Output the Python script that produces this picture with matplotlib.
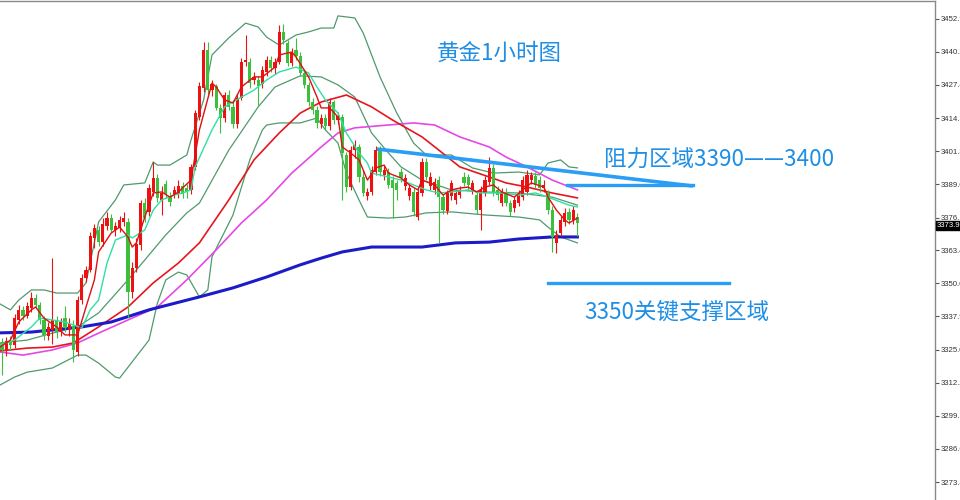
import matplotlib
matplotlib.use("Agg")
import matplotlib.pyplot as plt
import numpy as np

# ------------------------------------------------------------------
# Gold 1h candles, oldest -> newest
# ------------------------------------------------------------------
opens = [
    3327.6, 3324.9, 3328.4, 3326.8, 3336.5, 3340.4, 3338.0, 3341.1, 3345.0, 3342.3,
    3336.5, 3330.3, 3332.6, 3336.5, 3331.8, 3337.2, 3332.6, 3334.2, 3324.1, 3344.2,
    3352.7, 3355.8, 3368.2, 3371.3, 3366.6, 3372.8, 3375.9, 3371.3, 3372.0, 3374.4,
    3374.4, 3347.3, 3356.6, 3365.5, 3381.7, 3378.2, 3386.0, 3391.4, 3382.9, 3389.1,
    3384.4, 3385.2, 3385.2, 3388.3, 3387.5, 3386.8, 3395.7, 3415.0, 3426.2, 3440.9,
    3425.4, 3427.0, 3418.5, 3414.6, 3423.5, 3418.9, 3412.3, 3422.3, 3436.3, 3436.3,
    3429.3, 3429.3, 3427.8, 3432.4, 3437.0, 3434.0, 3436.3, 3447.9, 3443.6, 3435.9,
    3440.9, 3438.6, 3432.0, 3427.4, 3420.8, 3417.7, 3412.3, 3414.6, 3411.5, 3420.8,
    3413.8, 3415.0, 3400.3, 3387.9, 3402.2, 3403.4, 3391.8, 3384.4, 3386.0, 3393.7,
    3402.2, 3392.6, 3393.7, 3390.6, 3389.5, 3393.7, 3388.3, 3384.4, 3386.0, 3376.3,
    3385.6, 3397.6, 3388.3, 3386.8, 3390.6, 3384.0, 3378.6, 3384.4, 3382.9, 3384.8,
    3391.8, 3391.8, 3386.8, 3384.8, 3379.0, 3385.6, 3389.8, 3395.3, 3386.8, 3381.7,
    3386.0, 3381.7, 3379.8, 3381.7, 3384.0, 3386.0, 3390.6, 3392.2, 3390.6, 3387.5,
    3385.6, 3379.0, 3366.3, 3370.1, 3374.4, 3378.2, 3375.2, 3376.3,
]
closes = [
    3324.9, 3328.4, 3326.8, 3337.2, 3340.4, 3338.0, 3341.9, 3345.0, 3342.3, 3336.5,
    3330.7, 3333.8, 3336.5, 3331.8, 3335.7, 3333.4, 3334.9, 3324.9, 3344.2, 3352.7,
    3355.8, 3369.0, 3372.0, 3366.6, 3373.6, 3375.9, 3371.3, 3372.8, 3375.2, 3375.9,
    3347.3, 3356.6, 3365.9, 3381.7, 3375.9, 3387.5, 3391.4, 3383.7, 3385.6, 3385.2,
    3382.1, 3386.8, 3388.3, 3385.2, 3386.0, 3395.7, 3416.5, 3427.0, 3440.9, 3425.4,
    3427.8, 3418.5, 3414.6, 3423.5, 3418.9, 3412.3, 3422.3, 3436.3, 3437.0, 3428.1,
    3430.5, 3427.0, 3433.2, 3437.0, 3434.0, 3436.3, 3447.9, 3444.8, 3435.9, 3440.1,
    3438.6, 3432.0, 3427.4, 3420.8, 3417.7, 3412.7, 3414.6, 3411.5, 3420.8, 3413.8,
    3415.4, 3401.1, 3387.9, 3402.2, 3404.2, 3391.8, 3385.6, 3386.0, 3394.5, 3402.2,
    3393.7, 3394.5, 3388.7, 3387.5, 3386.8, 3391.4, 3391.4, 3387.5, 3378.2, 3386.0,
    3397.6, 3391.8, 3391.8, 3389.8, 3384.0, 3379.0, 3385.6, 3389.5, 3385.6, 3386.8,
    3389.5, 3388.7, 3389.5, 3379.0, 3386.8, 3390.6, 3395.3, 3386.0, 3384.8, 3386.0,
    3381.7, 3378.2, 3382.9, 3384.8, 3390.6, 3392.6, 3392.6, 3388.7, 3387.5, 3388.7,
    3379.0, 3368.6, 3369.4, 3375.2, 3377.9, 3375.2, 3379.0, 3373.9,
]
highs = [
    3329.5, 3329.9, 3330.3, 3338.8, 3342.3, 3341.9, 3343.4, 3347.3, 3346.5, 3343.4,
    3338.0, 3335.7, 3360.4, 3338.0, 3337.2, 3341.9, 3337.2, 3336.5, 3345.8, 3354.3,
    3357.4, 3370.5, 3373.6, 3372.8, 3375.9, 3378.2, 3377.5, 3374.4, 3376.7, 3378.2,
    3375.9, 3358.9, 3368.2, 3382.9, 3383.7, 3389.1, 3397.6, 3393.0, 3388.3, 3390.6,
    3386.0, 3388.3, 3390.6, 3389.8, 3389.1, 3396.8, 3417.7, 3428.5, 3444.0, 3444.0,
    3429.3, 3427.8, 3420.0, 3424.7, 3425.4, 3421.6, 3423.9, 3437.8, 3446.7, 3437.8,
    3432.4, 3430.9, 3434.7, 3438.6, 3438.6, 3437.8, 3450.6, 3451.0, 3444.8, 3441.7,
    3445.6, 3440.1, 3433.2, 3428.5, 3422.3, 3419.2, 3416.2, 3416.2, 3422.3, 3421.6,
    3416.9, 3416.2, 3401.4, 3403.8, 3406.1, 3404.6, 3394.5, 3387.5, 3396.0, 3403.8,
    3403.8, 3396.0, 3395.3, 3392.2, 3390.6, 3395.3, 3393.0, 3389.1, 3387.5, 3387.5,
    3399.1, 3399.1, 3393.7, 3391.4, 3392.2, 3385.2, 3386.8, 3390.6, 3386.8, 3388.3,
    3393.7, 3393.0, 3390.6, 3386.0, 3388.3, 3392.2, 3399.5, 3396.8, 3388.3, 3387.5,
    3387.5, 3382.9, 3384.4, 3386.8, 3392.2, 3394.5, 3393.7, 3393.7, 3392.2, 3390.6,
    3386.8, 3380.6, 3371.3, 3376.7, 3379.8, 3379.8, 3380.6, 3377.9,
]
lows = [
    3315.2, 3322.6, 3324.9, 3325.6, 3334.9, 3336.5, 3337.2, 3339.6, 3341.1, 3334.9,
    3328.7, 3328.7, 3327.2, 3329.5, 3330.3, 3331.8, 3330.3, 3320.2, 3322.6, 3342.7,
    3351.2, 3355.0, 3364.3, 3365.1, 3365.1, 3371.3, 3370.5, 3369.0, 3370.5, 3372.8,
    3337.2, 3345.0, 3355.0, 3363.6, 3374.4, 3376.7, 3384.4, 3382.1, 3377.1, 3383.7,
    3380.6, 3383.7, 3383.7, 3383.7, 3383.7, 3385.2, 3394.5, 3413.8, 3424.7, 3423.9,
    3423.1, 3417.7, 3408.8, 3413.1, 3417.7, 3410.7, 3410.7, 3421.6, 3434.7, 3426.2,
    3427.8, 3419.6, 3426.2, 3430.9, 3432.4, 3431.6, 3435.5, 3443.2, 3434.7, 3434.7,
    3437.0, 3430.9, 3426.2, 3419.2, 3416.2, 3410.7, 3410.7, 3410.0, 3410.0, 3412.3,
    3412.3, 3382.9, 3386.0, 3386.8, 3399.1, 3389.8, 3384.4, 3382.9, 3384.8, 3392.6,
    3392.2, 3390.6, 3387.5, 3375.9, 3382.9, 3389.8, 3386.8, 3382.9, 3376.7, 3375.2,
    3384.4, 3390.6, 3386.8, 3385.2, 3366.3, 3377.5, 3377.5, 3382.9, 3381.4, 3383.7,
    3388.3, 3386.8, 3385.2, 3377.5, 3371.3, 3384.4, 3388.7, 3384.4, 3382.9, 3380.6,
    3380.6, 3376.7, 3378.2, 3380.6, 3382.9, 3384.8, 3389.1, 3387.5, 3386.0, 3386.0,
    3377.5, 3362.8, 3362.4, 3369.0, 3372.8, 3373.6, 3373.6, 3369.0,
]

# ------------------------------------------------------------------
# Indicator lines, sampled at candle index positions
# ------------------------------------------------------------------
ma_fast_idx = [-0.5, 2, 4, 7, 8, 10, 13, 15, 18, 20, 22, 23, 26, 28, 30, 31, 32, 34, 36, 38,
               40, 42, 45, 47, 50, 51, 53, 55, 57, 60, 62, 65, 66, 69, 70, 73, 75, 76, 78, 80,
               81, 83, 85, 87, 89, 91, 92, 95, 97, 99, 100, 103, 105, 107, 109, 111, 113, 115,
               117, 119, 122, 124, 126, 129, 130, 132, 134, 135, 137]
ma_fast_val = [3326.0, 3328.7, 3335.7, 3340.4, 3341.5, 3337.2, 3333.8, 3330.7, 3330.7, 3341.5,
               3352.0, 3362.8, 3370.1, 3372.4, 3368.6, 3364.7, 3366.3, 3376.3, 3385.6, 3386.0,
               3384.0, 3386.0, 3390.6, 3410.0, 3428.1, 3426.6, 3421.6, 3420.4, 3426.6, 3430.5,
               3430.5, 3434.3, 3439.0, 3440.1, 3438.2, 3430.5, 3422.7, 3418.5, 3418.5, 3415.0,
               3403.4, 3401.1, 3398.4, 3390.6, 3395.3, 3396.4, 3393.3, 3391.4, 3388.7, 3386.8,
               3390.6, 3388.7, 3384.8, 3386.8, 3387.5, 3387.9, 3386.0, 3387.9, 3388.7, 3386.0,
               3384.0, 3386.8, 3389.5, 3387.9, 3384.0, 3379.0, 3375.2, 3374.0, 3375.9]

ma10_idx = [-0.5, 3, 7, 9, 12, 15, 19, 21, 23, 25, 27, 30, 31, 34, 36, 38, 41, 43, 45, 46,
            50, 53, 57, 60, 63, 66, 70, 73, 75, 77, 80, 82, 85, 87, 88, 92, 95, 98, 101, 104,
            107, 111, 114, 119, 123, 127, 130, 133, 135, 137]
ma10_val = [3326.8, 3328.7, 3333.8, 3337.2, 3336.5, 3335.7, 3333.4, 3340.4, 3344.2, 3358.5,
            3367.4, 3369.4, 3368.2, 3371.3, 3379.0, 3382.9, 3384.8, 3385.6, 3386.8, 3395.7,
            3410.0, 3418.9, 3422.7, 3425.4, 3429.3, 3432.4, 3434.3, 3432.0, 3426.6, 3421.6,
            3416.5, 3408.8, 3401.1, 3397.2, 3393.3, 3391.8, 3390.6, 3388.7, 3386.8, 3385.6,
            3386.0, 3386.8, 3385.6, 3385.6, 3384.8, 3385.6, 3384.0, 3382.1, 3380.9, 3380.2]

bb_mid_idx = [-0.5, 6, 12, 18, 23, 30, 34, 39, 44, 47, 54, 61, 65, 71, 76, 80, 84, 88, 92, 95,
              100, 107, 115, 123, 131, 137]
bb_mid_val = [3327.6, 3328.7, 3331.4, 3333.8, 3339.2, 3352.0, 3359.7, 3369.4, 3377.9, 3381.7,
              3402.2, 3418.9, 3426.6, 3430.9, 3430.5, 3427.4, 3422.7, 3408.8, 3401.1, 3395.7,
              3390.6, 3386.8, 3386.0, 3385.6, 3384.0, 3380.9]

bb_up_idx = [-0.5, 2, 4, 7, 10, 13, 18, 20, 23, 27, 29, 34, 36, 37, 40, 44, 45, 48, 50, 54,
             58, 61, 63, 66, 70, 73, 76, 79, 80, 84, 86, 90, 94, 98, 101, 107, 112, 117, 123,
             128, 130, 133, 135, 137]
bb_up_val = [3342.7, 3340.4, 3344.2, 3348.1, 3348.1, 3346.9, 3346.9, 3350.8, 3374.4, 3382.9,
             3388.7, 3389.5, 3397.6, 3396.4, 3396.4, 3400.3, 3406.1, 3421.6, 3439.0, 3445.6,
             3451.3, 3449.8, 3445.9, 3442.8, 3446.7, 3447.9, 3449.4, 3449.4, 3454.1, 3453.3,
             3447.5, 3430.5, 3416.5, 3404.9, 3400.3, 3400.3, 3395.3, 3393.3, 3393.7, 3392.6,
             3397.2, 3398.4, 3395.7, 3395.3]

bb_low_idx = [-0.5, 3, 6, 12, 18, 20, 23, 27, 28, 35, 37, 39, 42, 44, 47, 49, 50, 55, 59, 62,
              63, 66, 71, 75, 77, 80, 82, 85, 87, 92, 96, 101, 107, 115, 123, 128, 130, 133, 137]
bb_low_val = [3311.3, 3314.4, 3316.3, 3317.9, 3322.9, 3322.9, 3319.8, 3314.4, 3314.0, 3328.7,
              3343.0, 3352.0, 3355.0, 3353.9, 3345.4, 3348.1, 3360.9, 3377.1, 3398.4, 3410.0,
              3411.9, 3412.7, 3412.7, 3414.6, 3410.0, 3404.9, 3393.3, 3382.9, 3376.3, 3375.9,
              3376.3, 3377.9, 3378.3, 3377.1, 3376.3, 3375.2, 3372.4, 3368.6, 3366.3]

ma_slow_idx = [-0.5, 6, 12, 17, 23, 30, 36, 42, 47, 54, 60, 66, 71, 76, 82, 88, 93, 100, 104,
               109, 116, 120, 125, 131, 137]
ma_slow_val = [3324.5, 3325.6, 3326.0, 3327.6, 3333.8, 3341.5, 3350.8, 3358.5, 3366.3, 3382.9,
               3398.4, 3408.8, 3416.5, 3420.8, 3423.5, 3418.9, 3413.8, 3407.3, 3402.2, 3395.7,
               3391.8, 3389.5, 3387.9, 3385.6, 3383.7]

ma60_idx = [-0.5, 5, 12, 18, 23, 30, 37, 44, 51, 57, 63, 69, 76, 80, 84, 92, 98, 103, 109, 116,
            120, 125, 131, 137]
ma60_val = [3324.1, 3322.9, 3324.9, 3327.6, 3331.4, 3336.5, 3341.5, 3352.0, 3363.6, 3374.0,
            3382.9, 3393.3, 3403.4, 3408.8, 3410.8, 3411.9, 3412.7, 3411.9, 3407.3, 3403.4,
            3399.5, 3395.7, 3390.6, 3386.8]

ma200_idx = [-0.5, 7, 19, 26, 35, 47, 55, 63, 71, 76, 81, 88, 100, 108, 116, 123, 131, 137]
ma200_val = [3331.5, 3331.8, 3333.8, 3335.7, 3340.4, 3345.4, 3348.9, 3353.1, 3357.8, 3360.4,
             3362.8, 3364.7, 3364.7, 3366.3, 3366.6, 3367.8, 3368.6, 3368.6]

# hand-drawn analysis lines
trend_x = [89.3, 164.5]
trend_y = [3402.6, 3388.3]
resist_x = [134.5, 164.5]
resist_level = 3388.7
support_x = [130.0, 173.0]
support_level = 3350.8

price_ticks = [3452.9, 3440.2, 3427.4, 3414.5, 3401.8, 3389.0, 3376.1, 3363.4,
               3350.6, 3337.9, 3325.0, 3312.2, 3299.5, 3286.6, 3273.8]
last_price = 3373.9

UP = "#ec1212"
DOWN = "#3cbf3c"
NOTE_BLUE = "#1f8fe6"
CJK = ["Noto Sans CJK SC", "DejaVu Sans"]


def draw_candles(ax, o, h, l, c, width=0.8):
    o, h, l, c = map(np.asarray, (o, h, l, c))
    x = np.arange(len(o))
    colors = np.where(c >= o, UP, DOWN)
    ax.vlines(x, l, h, colors=colors, linewidth=0.8, zorder=2)
    bottom = np.minimum(o, c)
    height = np.maximum(np.abs(c - o), 0.35)
    ax.bar(x, height, bottom=bottom, width=width, color=colors, linewidth=0, zorder=3)


fig = plt.figure(figsize=(9.6, 5.0), dpi=100)
fig.patch.set_facecolor("white")
ax = fig.add_axes([0, 0, 935 / 960, 499 / 500])

# indicator lines under the candles
ax.plot(bb_up_idx, bb_up_val, color="#4f9a6c", lw=0.9, zorder=1)
ax.plot(bb_mid_idx, bb_mid_val, color="#4f9a6c", lw=0.9, zorder=1)
ax.plot(bb_low_idx, bb_low_val, color="#4f9a6c", lw=0.9, zorder=1)
ax.plot(ma60_idx, ma60_val, color="#e548e5", lw=1.2, zorder=1)
ax.plot(ma_slow_idx, ma_slow_val, color="#e5161e", lw=1.2, zorder=1)
ax.plot(ma200_idx, ma200_val, color="#1b1bc8", lw=2.2, zorder=1)

draw_candles(ax, opens, highs, lows, closes)

ax.plot(ma10_idx, ma10_val, color="#2fe0a4", lw=1.0, zorder=4)
ax.plot(ma_fast_idx, ma_fast_val, color="#e01010", lw=1.0, zorder=4)

# analysis drawings
ax.plot(trend_x, trend_y, color="#2a9df4", lw=2.6, solid_capstyle="butt", zorder=5)
ax.plot(resist_x, [resist_level] * 2, color="#2a9df4", lw=2.4, zorder=5)
ax.plot(support_x, [support_level] * 2, color="#2a9df4", lw=2.4, zorder=5)

ax.text(118.3, 3439.8, "黄金1小时图", family=CJK, fontsize=16.2, color=NOTE_BLUE,
        ha="center", va="center", zorder=6)
ax.text(143.3, 3398.4, "阻力区域3390——3400", family=CJK, fontsize=16.2,
        color=NOTE_BLUE, ha="left", va="center", zorder=6)
ax.text(138.6, 3339.6, "3350关键支撑区域", family=CJK, fontsize=16.2, color=NOTE_BLUE,
        ha="left", va="center", zorder=6)

# axes: MT4-like right price scale
ax.set_xlim(-2 / 4.2, 933 / 4.2)
ax.set_ylim(3266.85, 3459.86)
ax.set_xticks([])
ax.yaxis.tick_right()
ax.set_yticks(price_ticks)
ax.set_yticklabels([f"{v:.1f}" for v in price_ticks], family="Liberation Sans")
ax.tick_params(axis="y", length=3, width=0.8, pad=1.0, labelsize=5.6, colors="#555555",
               labelcolor="#333333")
for side in ("left", "bottom"):
    ax.spines[side].set_visible(False)
for side in ("top", "right"):
    ax.spines[side].set_color("#8a8a8a")
    ax.spines[side].set_linewidth(1.0)

ax.annotate(f"{last_price:.1f}", xy=(1, last_price), xycoords=("axes fraction", "data"),
            xytext=(1.5, -1.5), textcoords="offset points", ha="left", va="center",
            fontsize=5.6, family="Liberation Sans", color="white",
            bbox=dict(boxstyle="square,pad=0.15", fc="black", ec="black"), zorder=7,
            annotation_clip=False)

fig.savefig("out.png", dpi=100)
